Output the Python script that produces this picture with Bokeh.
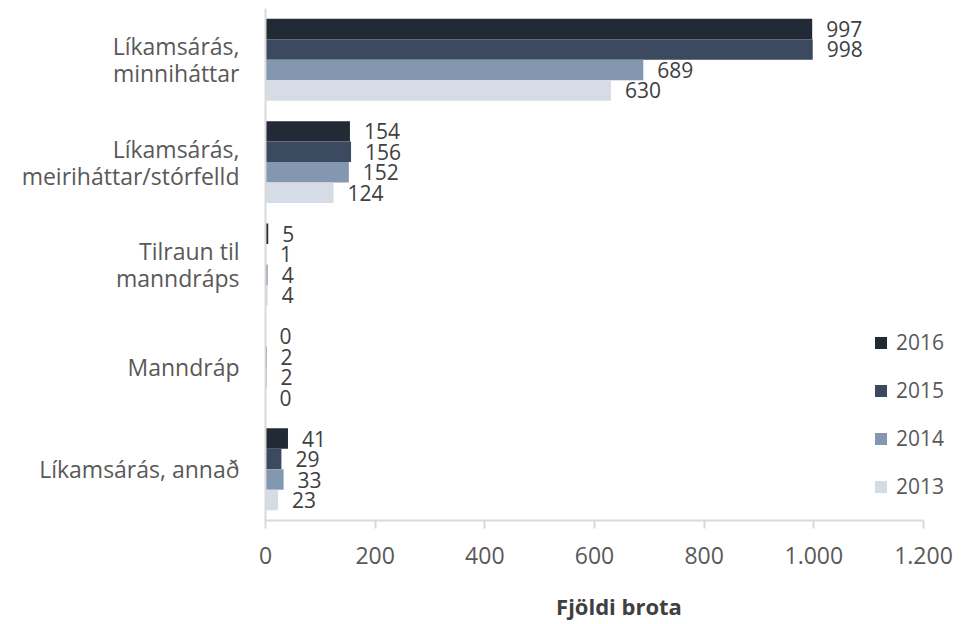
from bokeh.plotting import figure
from bokeh.models import ColumnDataSource, FactorRange, Range1d, FixedTicker, Legend, LegendItem
from bokeh.transform import dodge
from bokeh.core.properties import value
from bokeh.embed import file_html
from bokeh.resources import INLINE

categories = ["Líkamsárás,\nminniháttar", "Líkamsárás,\nmeiriháttar/stórfelld",
              "Tilraun til\nmanndráps", "Manndráp", "Líkamsárás, annað"]
years = ["2016", "2015", "2014", "2013"]
v2016 = [997, 154, 5, 0, 41]
v2015 = [998, 156, 1, 2, 29]
v2014 = [689, 152, 4, 2, 33]
v2013 = [630, 124, 4, 0, 23]
x_ticks = [0, 200, 400, 600, 800, 1000, 1200]
x_tick_labels = ["0", "200", "400", "600", "800", "1.000", "1.200"]
x_title = "Fjöldi brota"

colors = ["#222a35", "#3b4a5e", "#8497b0", "#d6dce5"]
offsets = [0.3, 0.1, -0.1, -0.3]
series = [v2016, v2015, v2014, v2013]

FONT = "Open Sans"

data = {"cat": categories}
for yr, vals in zip(years, series):
    data["v" + yr] = vals
    data["t" + yr] = [str(v) for v in vals]
src = ColumnDataSource(data)

# frame: left 265, right 972 (1200 at 923), top 8, bottom 520
p = figure(width=972, height=624, output_backend="svg", toolbar_location=None,
           y_range=FactorRange(factors=list(reversed(categories))),
           x_range=Range1d(0, 1200 * (972 - 265) / (923 - 265)),
           min_border_left=265, min_border_right=0, min_border_top=8, min_border_bottom=104)
p.outline_line_color = None
p.xgrid.grid_line_color = None
p.ygrid.grid_line_color = None
p.y_range.range_padding = 0

items = []
for yr, col, off in zip(years, colors, offsets):
    r = p.hbar(y=dodge("cat", off, range=p.y_range), right="v" + yr, left=0, height=0.2,
               source=src, fill_color=col, line_color=None)
    p.text(x="v" + yr, y=dodge("cat", off, range=p.y_range), text="t" + yr, source=src,
           x_offset=14, text_baseline="middle", text_align="left",
           text_font=value(FONT), text_font_size="21px", text_color="#404040")
    items.append(LegendItem(label=yr, renderers=[r]))

legend = Legend(items=items, location=(608, 20), orientation="vertical",
                label_text_font=FONT, label_text_font_size="21px", label_text_color="#595959",
                glyph_width=15, glyph_height=15, label_standoff=8, spacing=20,
                padding=0, margin=0, border_line_color=None, background_fill_alpha=0)
p.add_layout(legend, "center")

xa = p.xaxis[0]
xa.bounds = (0, 1200)
xa.ticker = FixedTicker(ticks=x_ticks)
xa.major_label_overrides = {t: l for t, l in zip(x_ticks, x_tick_labels)}
xa.axis_line_color = "#d9d9d9"
xa.axis_line_width = 2
xa.major_tick_line_color = "#d9d9d9"
xa.major_tick_line_width = 2
xa.major_tick_out = 8
xa.major_tick_in = 0
xa.minor_tick_line_color = None
xa.major_label_text_font = FONT
xa.major_label_text_font_size = "23px"
xa.major_label_text_color = "#595959"
xa.major_label_standoff = 18
xa.axis_label = x_title
xa.axis_label_text_font = FONT
xa.axis_label_text_font_size = "22px"
xa.axis_label_text_font_style = "bold"
xa.axis_label_text_color = "#404040"
xa.axis_label_standoff = 24

ya = p.yaxis[0]
ya.axis_line_color = "#d9d9d9"
ya.axis_line_width = 2
ya.major_tick_line_color = None
ya.major_tick_out = 0
ya.major_tick_in = 0
ya.minor_tick_line_color = None
ya.major_label_text_font = FONT
ya.major_label_text_font_size = "23px"
ya.major_label_text_color = "#595959"
ya.major_label_text_line_height = 0.85
ya.major_label_standoff = 26

open("out.html", "w").write(file_html(p, INLINE))
